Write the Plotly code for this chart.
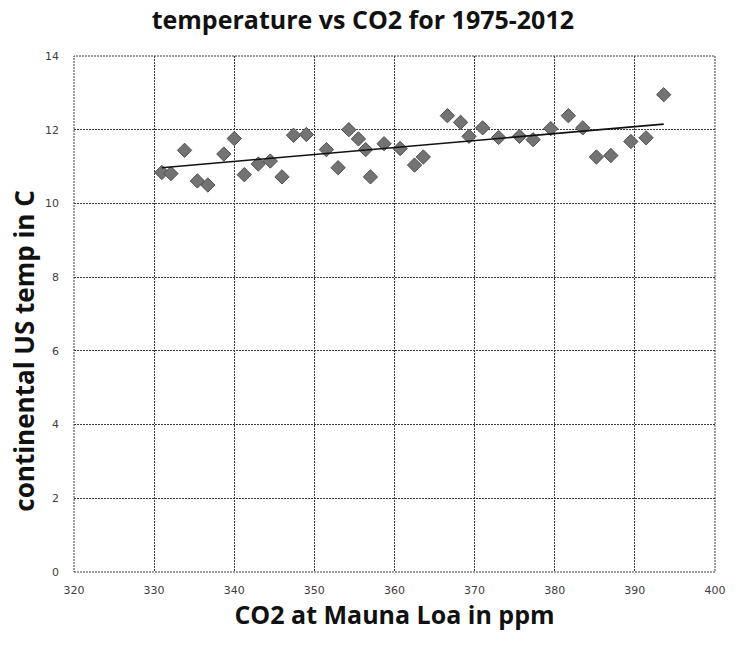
import numpy as np
import plotly.graph_objects as go

co2_ppm = [330.96, 332.1, 333.8, 335.4, 336.7, 338.7, 340.0, 341.25, 343.0, 344.5,
           345.96, 347.4, 349.0, 351.5, 352.96, 354.3, 355.5, 356.4, 357.0, 358.7,
           360.7, 362.5, 363.6, 366.6, 368.25, 369.3, 371.0, 373.0, 375.6, 377.3,
           379.5, 381.7, 383.5, 385.2, 387.0, 389.5, 391.4, 393.6]
temp_c = [10.84, 10.81, 11.44, 10.61, 10.50, 11.34, 11.76, 10.78, 11.07, 11.15,
          10.72, 11.85, 11.87, 11.46, 10.97, 12.00, 11.75, 11.46, 10.72, 11.62,
          11.49, 11.04, 11.26, 12.38, 12.20, 11.82, 12.05, 11.79, 11.82, 11.73,
          12.03, 12.38, 12.05, 11.26, 11.30, 11.68, 11.78, 12.95]
x_ticks = [320, 330, 340, 350, 360, 370, 380, 390, 400]
y_ticks = [0, 2, 4, 6, 8, 10, 12, 14]

slope, intercept = np.polyfit(co2_ppm, temp_c, 1)
trend_x = [min(co2_ppm), max(co2_ppm)]
trend_y = [slope * v + intercept for v in trend_x]

fig = go.Figure()
fig.add_trace(go.Scatter(
    x=co2_ppm, y=temp_c, mode="markers",
    marker=dict(symbol="diamond", size=11, color="#737373",
                line=dict(color="#505050", width=1)),
    showlegend=False))
fig.add_trace(go.Scatter(
    x=trend_x, y=trend_y, mode="lines",
    line=dict(color="#111111", width=1.6), showlegend=False))

grid = dict(showgrid=True, gridcolor="#3a3a3a", gridwidth=1, griddash="2px,1px",
            zeroline=False, showline=False, ticks="", layer="below traces",
            automargin=False,
            tickfont=dict(family="DejaVu Sans", size=11, color="#404040"))

fig.add_shape(type="rect", xref="paper", yref="paper", x0=0, y0=0, x1=1, y1=1,
              line=dict(color="#3a3a3a", width=1, dash="2px,1px"), layer="below")

fig.add_annotation(text="<b>continental US temp in C</b>", textangle=-90,
                   xref="paper", yref="paper", x=-0.078, y=0.427,
                   xanchor="center", yanchor="middle", showarrow=False,
                   font=dict(family="Open Sans", size=26, color="#111111"))

fig.update_layout(
    width=736, height=646,
    margin=dict(l=74, r=21, t=56, b=74, autoexpand=False),
    paper_bgcolor="white", plot_bgcolor="white",
    title=dict(text="<b>temperature vs CO2 for 1975-2012</b>", x=0.493, xanchor="center",
               y=0.968, yanchor="middle",
               font=dict(family="Open Sans", size=25, color="#111111")),
    xaxis=dict(range=[320, 400], tickvals=x_ticks, ticklabelstandoff=10,
               title=dict(text="<b>CO2 at Mauna Loa in ppm</b>", standoff=8,
                          font=dict(family="Open Sans", size=25, color="#111111")),
               **grid),
    yaxis=dict(range=[0, 14], tickvals=y_ticks, ticklabelstandoff=14, **grid),
)
fig.write_html("out.html", config={"displayModeBar": False},
               post_script="document.body.style.margin='0';document.body.style.overflow='hidden';")
